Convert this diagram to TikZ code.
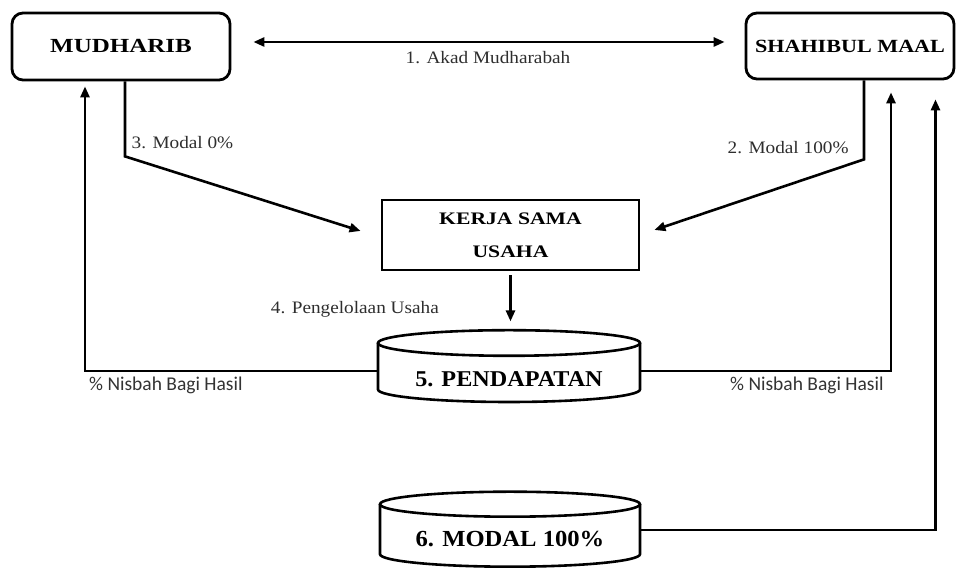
\documentclass[tikz,border=0pt]{standalone}
\usepackage{fontspec}
\setmainfont{Liberation Serif}
\newfontfamily\mudfont[FakeStretch=1.25]{Liberation Serif}
\newfontfamily\shafont[FakeStretch=1.19]{Liberation Serif}
\newfontfamily\kerfont[FakeStretch=1.23]{Liberation Serif}
\newfontfamily\modfont[FakeStretch=1.07]{Liberation Serif}
\newfontfamily\labfont[FakeStretch=1.1]{Liberation Serif}
\newfontfamily\nisfont{Carlito}
\usetikzlibrary{arrows.meta,calc}
\begin{document}
\begin{tikzpicture}[x=1pt,y=1pt,
  actor/.style={draw, line width=2.8pt, rounded corners=11pt, inner sep=0pt},
  kbox/.style={draw, line width=2.8pt, inner sep=0pt, align=center},
  conn/.style={line width=2.6pt, -{Triangle[length=11pt,width=9pt]}},
  twoway/.style={line width=2.6pt, {Triangle[length=11pt,width=9pt]}-{Triangle[length=11pt,width=9pt]}},
  cyl/.style={line width=2.6pt},
  lab/.style={inner sep=0pt, text=black!82, font=\labfont\fontsize{17.5}{20}\selectfont},
  nis/.style={inner sep=0pt, text=black!80, font=\nisfont\fontsize{19.5}{22}\selectfont},
  cyltext/.style={inner sep=0pt}
]
\useasboundingbox (0,0) rectangle (956,569);

% boxes
\node[actor, minimum width=218pt, minimum height=67pt, font=\mudfont\bfseries\fontsize{20}{24}\selectfont] (mud) at (121,522.5) {MUDHARIB};
\node[actor, minimum width=208pt, minimum height=66pt, font=\shafont\bfseries\fontsize{18.6}{22}\selectfont] (sha) at (850,523) {SHAHIBUL MAAL};
\node[kbox, minimum width=257pt, minimum height=70pt, font=\kerfont\bfseries\fontsize{17.6}{32.6}\selectfont] (ker) at (510.5,334) {KERJA SAMA\\USAHA};

% cylinders (text nodes + outlines)
\node[cyltext, minimum width=262pt, font=\modfont\bfseries\fontsize{22.6}{26}\selectfont] (pend) at (509,190) {5. PENDAPATAN};
\draw[cyl] (509,226) ellipse [x radius=131, y radius=12.8];
\draw[cyl] (378,226) -- (378,179.5) arc[start angle=180, end angle=360, x radius=131, y radius=12.5] -- (640,226);

\node[cyltext, minimum width=260pt, font=\modfont\bfseries\fontsize{23}{26}\selectfont] (mod) at (510,29.5) {6. MODAL 100\%};
\draw[cyl] (510,64.8) ellipse [x radius=130, y radius=12.5];
\draw[cyl] (380,64.8) -- (380,14.8) arc[start angle=180, end angle=360, x radius=130, y radius=12.5] -- (640,64.8);

% connectors
\draw[twoway] ([xshift=22pt,yshift=4.5pt]mud.east) -- ([xshift=-20pt,yshift=4pt]sha.west);
\draw[conn] ([xshift=4pt]mud.south) -- ++(0,-75) -- ([xshift=-20pt,yshift=4pt]ker.west);
\draw[conn] ([xshift=14pt]sha.south) -- ++(0,-79) -- ([xshift=14pt,yshift=5pt]ker.east);
\draw[conn] ([yshift=-4pt]ker.south) -- ([yshift=-50pt]ker.south);
\draw[conn] ([yshift=8pt]pend.west) -| ([xshift=-36pt,yshift=-5pt]mud.south);
\draw[conn] ([yshift=8pt]pend.east) -| ([xshift=41pt,yshift=-12pt]sha.south);
\draw[conn] ([yshift=9.5pt]mod.east) -| ([xshift=85.5pt,yshift=-19pt]sha.south);

% labels
\node[lab, anchor=base] (l1) at (488,505) {1. Akad Mudharabah};
\node[lab, anchor=base west] (l3) at (131.5,420.7) {3. Modal 0\%};
\node[lab, anchor=base west] (l2) at (727.5,415) {2. Modal 100\%};
\node[lab, anchor=base east] (l4) at (439,255) {4. Pengelolaan Usaha};
\node[nis, anchor=base west] (n1) at (89,178) {\% Nisbah Bagi Hasil};
\node[nis, anchor=base west] (n2) at (730,178) {\% Nisbah Bagi Hasil};
\end{tikzpicture}
\end{document}
